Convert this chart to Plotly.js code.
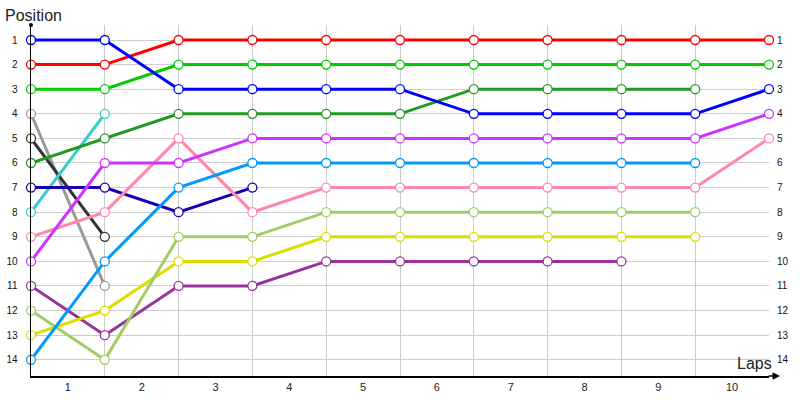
<!DOCTYPE html>
<html>
<head>
<meta charset="utf-8">
<script src="https://cdn.plot.ly/plotly-3.0.1.min.js"></script>
<style>
  html, body { margin: 0; padding: 0; background: #fff; }
  #chart { width: 800px; height: 400px; }
</style>
</head>
<body>
<div id="chart"></div>
<script>
// lap 0 = starting grid, then position after each lap
var laps = [0, 1, 2, 3, 4, 5, 6, 7, 8, 9, 10];
var lapLabels = ['1', '2', '3', '4', '5', '6', '7', '8', '9', '10'];
var positions = [1, 2, 3, 4, 5, 6, 7, 8, 9, 10, 11, 12, 13, 14];

var blueRun      = [1, 1, 3, 3, 3, 3, 4, 4, 4, 4, 3];
var redRun       = [2, 2, 1, 1, 1, 1, 1, 1, 1, 1, 1];
var greenRun     = [3, 3, 2, 2, 2, 2, 2, 2, 2, 2, 2];
var darkGreenRun = [6, 5, 4, 4, 4, 4, 3, 3, 3, 3];
var violetRun    = [10, 6, 6, 5, 5, 5, 5, 5, 5, 5, 4];
var skyRun       = [14, 10, 7, 6, 6, 6, 6, 6, 6, 6];
var pinkRun      = [9, 8, 5, 8, 7, 7, 7, 7, 7, 7, 5];
var navyRun      = [7, 7, 8, 7];
var blackRun     = [5, 9];
var greyRun      = [4, 11];
var tealRun      = [8, 4];
var oliveRun     = [12, 14, 9, 9, 8, 8, 8, 8, 8, 8];
var yellowRun    = [13, 12, 10, 10, 9, 9, 9, 9, 9, 9];
var plumRun      = [11, 13, 11, 11, 10, 10, 10, 10, 10];

var runs = [
  {y: plumRun, color: '#993399'},
  {y: yellowRun, color: '#dddd00'},
  {y: oliveRun, color: '#a3cc66'},
  {y: greyRun, color: '#999999'},
  {y: blackRun, color: '#333333'},
  {y: tealRun, color: '#33cccc'},
  {y: navyRun, color: '#1a00b3'},
  {y: pinkRun, color: '#ff88aa'},
  {y: skyRun, color: '#0099ff'},
  {y: violetRun, color: '#cc33ff'},
  {y: darkGreenRun, color: '#229922'},
  {y: greenRun, color: '#00cc00'},
  {y: redRun, color: '#ff0000'},
  {y: blueRun, color: '#0000ff'}
];

var traces = runs.map(function (r) {
  return {
    x: laps.slice(0, r.y.length),
    y: r.y,
    type: 'scatter',
    mode: 'lines+markers',
    line: {color: r.color, width: 3},
    marker: {symbol: 'circle', size: 9, color: '#ffffff', line: {color: r.color, width: 1.3}},
    cliponaxis: false,
    hoverinfo: 'x+y'
  };
});
// empty trace so the right-hand position axis gets drawn
traces.push({x: [], y: [], yaxis: 'y2', type: 'scatter', mode: 'markers', hoverinfo: 'skip'});

var yRange = [14.66, 0.39];
var tickFont = {family: 'Liberation Sans, Arial, sans-serif', size: 10, color: '#111'};

var layout = {
  width: 800,
  height: 400,
  margin: {l: 31, r: 31, t: 25, b: 24},
  paper_bgcolor: '#ffffff',
  plot_bgcolor: '#ffffff',
  showlegend: false,
  xaxis: {
    range: [0, 10],
    tickmode: 'array',
    tickvals: lapLabels.map(function (t, i) { return i + 0.5; }),
    ticktext: lapLabels,
    ticks: '',
    showgrid: false,
    zeroline: false,
    showline: true,
    linecolor: '#000',
    linewidth: 1.5,
    tickfont: {family: 'Liberation Sans, Arial, sans-serif', size: 11, color: '#222'},
    minor: {tickmode: 'array', tickvals: laps, showgrid: true, gridcolor: '#cccccc', gridwidth: 1, ticks: ''},
    fixedrange: true
  },
  yaxis: {
    range: yRange,
    tickmode: 'array',
    tickvals: positions,
    ticktext: positions.map(String),
    ticks: '',
    ticklabelstandoff: 10,
    showgrid: true,
    gridcolor: '#cccccc',
    gridwidth: 1,
    zeroline: false,
    showline: true,
    linecolor: '#000',
    linewidth: 1.5,
    tickfont: tickFont,
    fixedrange: true
  },
  yaxis2: {
    overlaying: 'y',
    anchor: 'x',
    side: 'right',
    range: yRange,
    tickmode: 'array',
    tickvals: positions,
    ticktext: positions.map(String),
    ticks: '',
    ticklabelstandoff: 7,
    showgrid: false,
    zeroline: false,
    showline: false,
    tickfont: tickFont,
    fixedrange: true
  },
  shapes: [
    {type: 'circle', xref: 'paper', yref: 'paper', xsizemode: 'pixel', ysizemode: 'pixel',
     xanchor: 0, yanchor: 1, x0: -2, x1: 2, y0: -2, y1: 2,
     fillcolor: '#000', line: {color: '#000', width: 0}}
  ],
  annotations: [
    {text: '', xref: 'paper', yref: 'paper', x: 1.015, y: 0, ax: -13, ay: 0,
     showarrow: true, arrowhead: 2, arrowsize: 1, arrowwidth: 1.5, arrowcolor: '#000', standoff: 0},
    {text: 'Position', xref: 'paper', yref: 'paper', x: 0, y: 1, xanchor: 'left', yanchor: 'bottom',
     xshift: -28, yshift: -1, showarrow: false,
     font: {family: 'Liberation Sans, Arial, sans-serif', size: 16, color: '#222'}},
    {text: 'Laps', xref: 'paper', yref: 'paper', x: 1, y: 0, xanchor: 'right', yanchor: 'bottom',
     xshift: 5, yshift: 2, showarrow: false,
     font: {family: 'Liberation Sans, Arial, sans-serif', size: 16, color: '#222'}}
  ]
};

Plotly.newPlot('chart', traces, layout, {displayModeBar: false, staticPlot: true});
</script>
</body>
</html>
